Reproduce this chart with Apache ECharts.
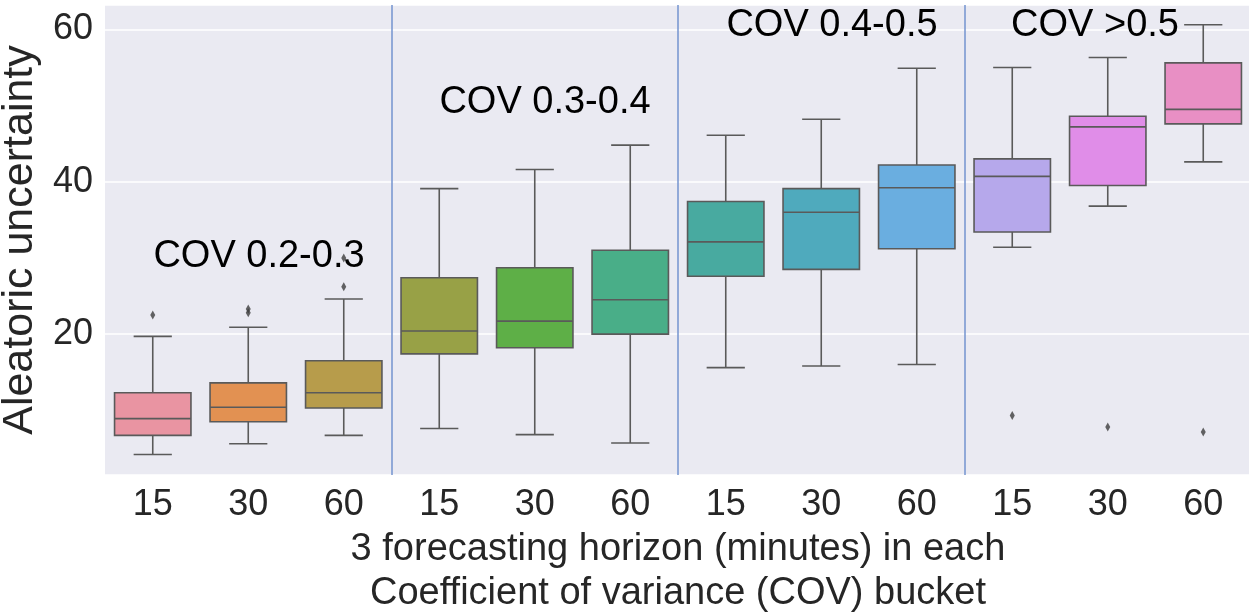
<!DOCTYPE html>
<html>
<head>
<meta charset="utf-8">
<script src="https://cdn.jsdelivr.net/npm/echarts@6/dist/echarts.min.js"></script>
<style>
html,body{margin:0;padding:0;background:#fff;overflow:hidden;}
#chart{width:1249px;height:615px;}
</style>
</head>
<body>
<div id="chart"></div>
<script>
// ---- data ----
const buckets = ['COV 0.2-0.3', 'COV 0.3-0.4', 'COV 0.4-0.5', 'COV >0.5'];
const horizons = ['15', '30', '60'];
const whiskerLow  = [4.2, 5.6, 6.7, 7.6, 6.8, 5.7, 15.6, 15.8, 16.0, 31.4, 36.8, 42.6];
const q1          = [6.7, 8.5, 10.3, 17.4, 18.2, 20.0, 27.6, 28.5, 31.2, 33.4, 39.5, 47.6];
const median      = [8.9, 10.4, 12.3, 20.4, 21.7, 24.5, 32.1, 36.0, 39.2, 40.7, 47.2, 49.5];
const q3          = [12.3, 13.6, 16.5, 27.4, 28.7, 31.0, 37.4, 39.1, 42.2, 43.0, 48.6, 55.6];
const whiskerHigh = [19.7, 20.9, 24.6, 39.1, 41.6, 44.8, 46.1, 48.2, 54.9, 55.0, 56.3, 60.6];
const outlierIndex = [0, 1, 1, 2, 2, 9, 10, 11];
const outlierValue = [22.5, 22.8, 23.3, 26.2, 30.0, 9.3, 7.8, 7.15];
const boxColors = ['#E994A2', '#E29152', '#B79C4B', '#98A146', '#5EAF47', '#49AE88',
                   '#48AAA0', '#4FAABD', '#6AAEE0', '#B6A8EB', '#E08DE8', '#E88FC4'];
const yTicks = [20, 40, 60];

// ---- build ----
const categories = [];
buckets.forEach(b => horizons.forEach(h => categories.push(b + '|' + h)));
const boxData = categories.map((c, i) => [i, whiskerLow[i], q1[i], median[i], q3[i], whiskerHigh[i]]);
const outlierData = outlierIndex.map((i, k) => [i, outlierValue[k]]);

const FONT = '"Liberation Sans", Arial, sans-serif';
const EDGE = '#5a5a5a';

const chart = echarts.init(document.getElementById('chart'), null, {renderer: 'canvas'});
chart.setOption({
  animation: false,
  backgroundColor: '#ffffff',
  grid: {left: 105, right: -2, top: 5, bottom: 140, show: true, backgroundColor: '#EAEAF2', borderWidth: 0,
         containLabel: false, outerBoundsMode: 'none'},
  xAxis: {
    type: 'category',
    data: categories,
    boundaryGap: true,
    axisLine: {show: false},
    axisTick: {show: false},
    axisLabel: {
      formatter: v => v.split('|')[1],
      fontSize: 36, fontFamily: FONT, color: '#262626', margin: 12
    },
    splitLine: {
      show: true,
      interval: (idx) => idx > 0 && idx < categories.length && idx % horizons.length === 0,
      lineStyle: {color: '#7393CF', width: 1.5}
    },
    name: '3 forecasting horizon (minutes) in each\nCoefficient of variance (COV) bucket',
    nameLocation: 'middle',
    nameGap: 52,
    nameTextStyle: {fontSize: 38, fontFamily: FONT, color: '#262626', lineHeight: 44}
  },
  yAxis: {
    type: 'value',
    min: 1.5,
    max: 63.2,
    splitNumber: 3,
    axisLine: {show: false},
    axisTick: {show: false},
    axisLabel: {
      fontSize: 36, fontFamily: FONT, color: '#262626', margin: 12,
      showMinLabel: false, showMaxLabel: false,
      formatter: v => (yTicks.indexOf(v) >= 0 ? String(v) : '')
    },
    splitLine: {show: true, lineStyle: {color: '#ffffff', width: 1.5}},
    name: 'Aleatoric uncertainty',
    nameLocation: 'middle',
    nameGap: 55,
    nameTextStyle: {fontSize: 43, fontFamily: FONT, color: '#262626'}
  },
  series: [
    {
      type: 'custom',
      data: boxData,
      encode: {x: 0, y: [1, 2, 3, 4, 5]},
      z: 3,
      renderItem: function (params, api) {
        const i = api.value(0);
        const band = api.size([1, 0])[0];
        const bw = band * 0.8;
        const cw = bw / 2;
        const pLo = api.coord([i, api.value(1)]);
        const pQ1 = api.coord([i, api.value(2)]);
        const pMed = api.coord([i, api.value(3)]);
        const pQ3 = api.coord([i, api.value(4)]);
        const pHi = api.coord([i, api.value(5)]);
        const x = pMed[0];
        const ls = {stroke: EDGE, lineWidth: 1.6, fill: null};
        return {
          type: 'group',
          children: [
            {type: 'line', shape: {x1: x, y1: pQ3[1], x2: x, y2: pHi[1]}, style: ls},
            {type: 'line', shape: {x1: x, y1: pQ1[1], x2: x, y2: pLo[1]}, style: ls},
            {type: 'line', shape: {x1: x - cw / 2, y1: pHi[1], x2: x + cw / 2, y2: pHi[1]}, style: ls},
            {type: 'line', shape: {x1: x - cw / 2, y1: pLo[1], x2: x + cw / 2, y2: pLo[1]}, style: ls},
            {type: 'rect', shape: {x: x - bw / 2, y: pQ3[1], width: bw, height: pQ1[1] - pQ3[1]},
              style: {fill: boxColors[i], stroke: EDGE, lineWidth: 1.6}},
            {type: 'line', shape: {x1: x - bw / 2, y1: pMed[1], x2: x + bw / 2, y2: pMed[1]}, style: ls}
          ]
        };
      }
    },
    {
      type: 'scatter',
      data: outlierData,
      symbol: 'diamond',
      symbolSize: [5, 9],
      itemStyle: {color: '#3d3d3d'},
      z: 4
    }
  ],
  graphic: [
    {type: 'text', x: 259, y: 257, style: {text: buckets[0], font: '38px ' + FONT, fill: '#000', align: 'center', verticalAlign: 'middle'}, z: 10},
    {type: 'text', x: 545, y: 103, style: {text: buckets[1], font: '38px ' + FONT, fill: '#000', align: 'center', verticalAlign: 'middle'}, z: 10},
    {type: 'text', x: 832, y: 26, style: {text: buckets[2], font: '38px ' + FONT, fill: '#000', align: 'center', verticalAlign: 'middle'}, z: 10},
    {type: 'text', x: 1095, y: 26, style: {text: buckets[3], font: '38px ' + FONT, fill: '#000', align: 'center', verticalAlign: 'middle'}, z: 10}
  ]
});
</script>
</body>
</html>
